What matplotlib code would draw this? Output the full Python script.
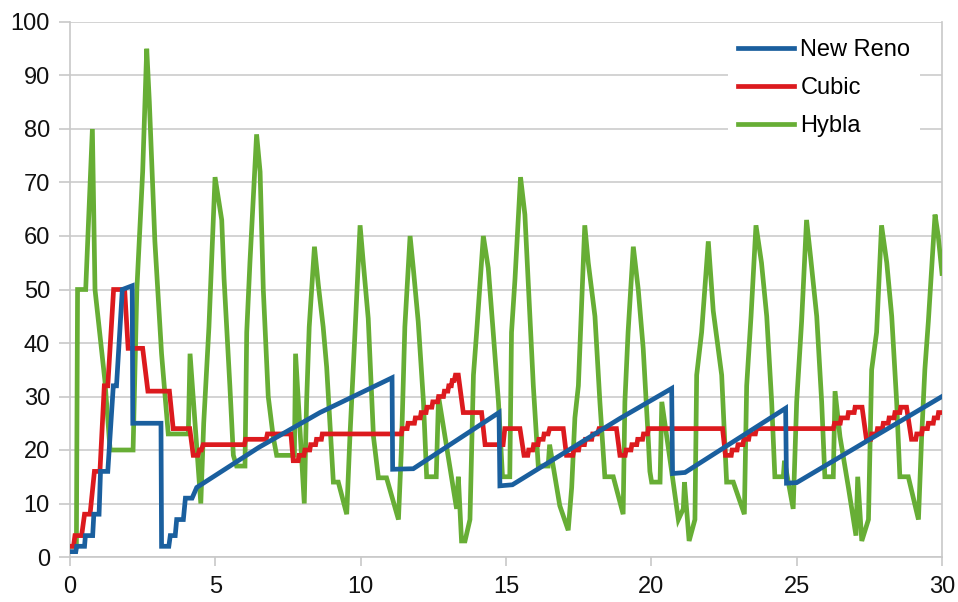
import matplotlib
matplotlib.use("Agg")
import matplotlib.pyplot as plt

plt.rcParams['font.family'] = ['Liberation Sans', 'DejaVu Sans']

# ---------------- data ----------------
reno_x = [0, 0.2, 0.23, 0.5, 0.53, 0.78, 0.82, 1.0, 1.05, 1.3, 1.49, 1.6, 1.8, 2.14, 2.16,
          3.13, 3.15, 3.4, 3.45, 3.62, 3.67, 3.9, 3.97, 4.2, 4.36, 6.5, 8.6, 11.08, 11.1,
          11.81, 14.76, 14.79, 15.22, 18.92, 20.7, 20.73, 21.16, 24.62, 24.65, 25.0, 30]
reno_y = [1, 1, 2, 2, 4, 4, 8, 8, 16, 16, 32, 32, 50, 50.7, 25,
          25, 2, 2, 4, 4, 7, 7, 11, 11, 13, 20.5, 27, 33.5, 16.4,
          16.5, 27, 13.3, 13.5, 25.9, 31.5, 15.6, 15.8, 27.8, 13.8, 13.9, 30]

cubic_x = [0, 0.12, 0.17, 0.4, 0.5, 0.69, 0.84, 1.03, 1.18, 1.3, 1.5, 1.88, 2.0, 2.5, 2.68,
           3.42, 3.55, 4.12, 4.24, 4.4, 4.45, 4.52, 4.58, 6.0, 6.04, 6.75, 6.79, 7.6, 7.68,
           7.85, 7.88, 8.05, 8.08, 8.25, 8.28, 8.45, 8.48, 8.65, 8.68,
           11.4, 11.43, 11.6, 11.63, 11.85, 11.88, 12.05, 12.08, 12.25, 12.28, 12.45, 12.48,
           12.65, 12.68, 12.85, 12.88, 13.0, 13.03, 13.12, 13.15, 13.22, 13.26, 13.36, 13.53,
           14.16, 14.28, 14.9, 14.96, 15.48, 15.62,
           15.75, 15.78, 15.92, 15.95, 16.1, 16.13, 16.28, 16.31, 16.45, 16.5, 16.97, 17.08,
           17.3, 17.33, 17.5, 17.53, 17.7, 17.73, 17.95, 17.98, 18.15, 18.2, 18.8, 18.92,
           19.1, 19.13, 19.3, 19.33, 19.5, 19.53, 19.7, 19.73, 19.87, 19.9, 22.45, 22.55,
           22.75, 22.78, 22.95, 22.98, 23.15, 23.18, 23.35, 23.38, 23.58, 23.62, 26.26,
           26.3, 26.5, 26.53, 26.75, 26.78, 26.98, 27.01, 27.25, 27.4,
           27.55, 27.58, 27.75, 27.78, 27.95, 27.98, 28.15, 28.18, 28.35, 28.38, 28.55, 28.58,
           28.78, 28.95, 29.1, 29.13, 29.3, 29.33, 29.5, 29.53, 29.7, 29.73, 29.85, 29.88, 30]
cubic_y = [2, 2, 4, 4, 8, 8, 16, 16, 32, 32, 50, 50, 39, 39, 31,
           31, 24, 24, 19, 19, 20, 20, 21, 21, 22, 22, 23, 23, 18,
           18, 19, 19, 20, 20, 21, 21, 22, 22, 23,
           23, 24, 24, 25, 25, 26, 26, 27, 27, 28, 28, 29,
           29, 30, 30, 31, 31, 32, 32, 33, 33, 34, 34, 27,
           27, 21, 21, 24, 24, 19,
           19, 20, 20, 21, 21, 22, 22, 23, 23, 24, 24, 19,
           19, 20, 20, 21, 21, 22, 22, 23, 23, 24, 24, 19,
           19, 20, 20, 21, 21, 22, 22, 23, 23, 24, 24, 19,
           19, 20, 20, 21, 21, 22, 22, 23, 23, 24, 24,
           25, 25, 26, 26, 27, 27, 28, 28, 22,
           22, 23, 23, 24, 24, 25, 25, 26, 26, 27, 27, 28,
           28, 22, 22, 23, 23, 24, 24, 25, 25, 26, 26, 27, 27]

hybla_x = [0, 0.22, 0.26, 0.54, 0.77, 0.86, 1.2, 1.38, 2.17, 2.3, 2.5, 2.64, 2.73, 2.92,
           3.15, 3.38, 4.07, 4.13, 4.5, 4.6, 4.78, 4.99, 5.22, 5.3, 5.5, 5.62, 5.73, 6.02,
           6.08, 6.19, 6.42, 6.54, 6.65, 6.82, 6.99, 7.11, 7.72, 7.76, 8.06, 8.14, 8.23,
           8.41, 8.54, 8.71, 8.83, 9.06, 9.23, 9.52, 9.63, 9.77, 9.98, 10.09, 10.26, 10.44,
           10.61, 10.89, 11.3, 11.4, 11.52, 11.7, 11.81, 11.98, 12.16, 12.27, 12.6, 12.68,
           13.3, 13.36, 13.47, 13.59, 13.76, 13.88, 13.99, 14.22, 14.39, 14.56, 14.74,
           14.88, 15.13, 15.19, 15.31, 15.5, 15.65, 15.82, 15.94, 16.11, 16.45, 16.5,
           16.85, 17.14, 17.26, 17.37, 17.49, 17.71, 17.83, 18.06, 18.23, 18.4, 18.69,
           19.03, 19.09, 19.2, 19.38, 19.55, 19.72, 19.89, 19.95, 20.01, 20.3, 20.36,
           20.7, 20.93, 21.1, 21.14, 21.3, 21.5, 21.56, 21.73, 21.96, 22.13, 22.42, 22.59,
           22.82, 23.2, 23.28, 23.43, 23.6, 23.79, 23.97, 24.14, 24.25, 24.54, 24.58,
           24.88, 25.0, 25.17, 25.34, 25.48, 25.69, 25.86, 25.97, 26.26, 26.32, 26.49,
           26.78, 27.04, 27.1, 27.24, 27.47, 27.58, 27.75, 27.92, 28.1, 28.27, 28.44,
           28.55, 28.84, 29.19, 29.3, 29.41, 29.53, 29.76, 29.87, 30]
hybla_y = [2, 2, 50, 50, 80, 50, 33, 20, 20, 50, 72, 95, 85, 59,
           38, 23, 23, 38, 10, 25, 43, 71, 63, 52, 32, 19, 17, 17,
           42, 55, 79, 72, 50, 30, 22.5, 19, 19, 38, 10, 29, 43,
           58, 51, 43, 35.5, 14, 14, 8, 22.5, 38, 62, 55, 44.6, 22.5,
           14.8, 14.8, 7, 20, 43, 60, 54, 44, 29, 15, 15, 30,
           9, 15, 3, 3, 7, 34, 42, 60, 54, 42, 29,
           15, 15, 42, 52, 71, 64, 45, 32, 17, 17, 21,
           9.6, 5, 13, 26, 32, 62, 55, 45, 29, 15, 15,
           8, 29, 42, 58, 50, 39, 22.5, 16, 14, 14, 29,
           16, 7, 9, 14, 3, 7, 34, 42, 59, 46, 34, 14,
           14, 8, 32, 45, 62, 55, 45, 29, 15, 15, 18,
           9, 29, 44, 63, 56, 45, 29, 15, 15, 31, 22.5,
           13, 4, 15, 3, 7, 35, 42, 62, 55, 45, 29,
           15, 15, 7, 22.5, 35, 44, 64, 60, 53]

series_names = ["New Reno", "Cubic", "Hybla"]
series_colors = ["#1a5f9e", "#dc1a1e", "#67ae35"]
x_ticks = [0, 5, 10, 15, 20, 25, 30]
y_ticks = [0, 10, 20, 30, 40, 50, 60, 70, 80, 90, 100]

# ---------------- figure ----------------
fig = plt.figure(figsize=(9.58, 6.02), dpi=100)
ax = fig.add_axes([70 / 958, 1 - 557 / 602, 872 / 958, 535 / 602])

lw = 3.4
l_reno, = ax.plot(reno_x, reno_y, color=series_colors[0], lw=lw, zorder=5,
                  solid_joinstyle='miter', label=series_names[0])
l_cubic, = ax.plot(cubic_x, cubic_y, color=series_colors[1], lw=lw, zorder=4,
                   solid_joinstyle='miter', label=series_names[1])
l_hybla, = ax.plot(hybla_x, hybla_y, color=series_colors[2], lw=lw, zorder=3,
                   solid_joinstyle='miter', label=series_names[2])

ax.set_xlim(0, 30)
ax.set_ylim(0, 100)
ax.set_xticks(x_ticks)
ax.set_yticks(y_ticks)
ax.yaxis.grid(True, color='#cccccc', lw=1.2)
ax.set_axisbelow(True)
for s in ax.spines.values():
    s.set_color('#c8c8c8')
    s.set_linewidth(1.2)
ax.spines['top'].set_visible(False)
ax.tick_params(axis='y', length=8, width=1.2, color='#c8c8c8', pad=6.5,
               labelsize=17, labelcolor='#111111')
ax.tick_params(axis='x', length=6.5, width=1.2, color='#c8c8c8', pad=7,
               labelsize=17, labelcolor='#111111')

leg = ax.legend(handles=[l_reno, l_cubic, l_hybla], loc='upper left',
                bbox_to_anchor=(0.755, 0.985), fontsize=17, frameon=True,
                fancybox=False, edgecolor='none', facecolor='white', framealpha=1,
                handlelength=2.4, handletextpad=0.25, labelspacing=0.67,
                borderpad=0.4, borderaxespad=0)
leg.set_zorder(10)

fig.savefig("out.png", dpi=100)
